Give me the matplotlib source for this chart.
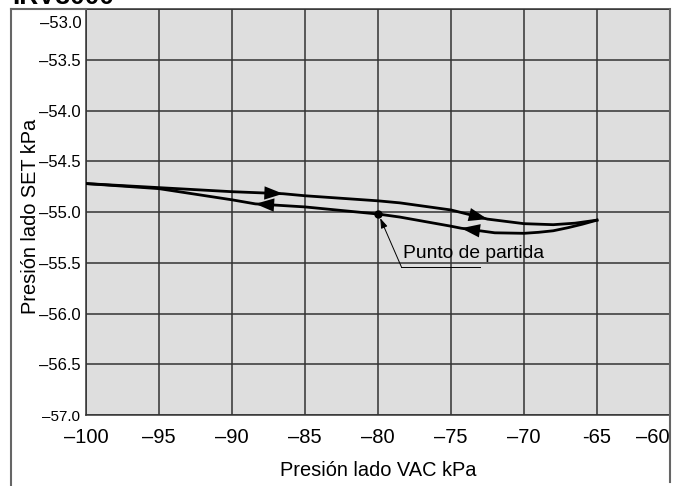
import numpy as np
import matplotlib
matplotlib.use("Agg")
import matplotlib.pyplot as plt
from matplotlib import font_manager
from matplotlib.lines import Line2D

# data
fwd_x = [-100, -95, -90, -86.5, -85, -80, -78.5, -75, -72.5, -70, -68, -66.5, -65]
fwd_y = [-54.72, -54.76, -54.80, -54.82, -54.84, -54.89, -54.91, -54.98, -55.07, -55.115, -55.125, -55.11, -55.08]

ret_x = [-65, -66, -67, -68, -69, -70, -72, -74.3, -75, -78.5, -80, -85, -88.4, -90, -95, -100]
ret_y = [-55.08, -55.12, -55.155, -55.185, -55.2, -55.21, -55.205, -55.16, -55.14, -55.05, -55.02, -54.95, -54.92, -54.88, -54.77, -54.72]

fwd_arrow_x = [-86.5, -72.5]
ret_arrow_x = [-88.4, -74.3]

start_x, start_y = -80, -55.02

x_ticks = [-100, -95, -90, -85, -80, -75, -70, -65, -60]
x_labels = ["\u2013100", "\u201395", "\u201390", "\u201385", "\u201380", "\u201375", "\u201370", "-65", "\u201360"]
y_ticks = [-53.0, -53.5, -54.0, -54.5, -55.0, -55.5, -56.0, -56.5, -57.0]
y_labels = ["\u2013%.1f" % abs(v) for v in y_ticks]

names = {f.name for f in font_manager.fontManager.ttflist}
narrow = "Liberation Sans Narrow" if "Liberation Sans Narrow" in names else "Liberation Sans"
plt.rcParams["font.family"] = ["Liberation Sans", "DejaVu Sans"]

fig = plt.figure(figsize=(6.77, 4.86), dpi=100)
ax = fig.add_axes([86 / 677, 1 - 415 / 486, 584 / 677, 406 / 486])
ax.set_facecolor("#dedede")
ax.set_xlim(-100, -60)
ax.set_ylim(-57.0, -53.0)

ax.set_xticks(x_ticks)
ax.set_xticklabels(x_labels, fontsize=14.5)
ax.set_yticks(y_ticks)
ax.set_yticklabels(y_labels, fontsize=12, family=narrow)
ax.tick_params(length=0)
ax.tick_params(axis="x", pad=9)
ax.tick_params(axis="y", pad=4)
ax.grid(True, color="#333333", lw=1.1)
ax.set_axisbelow(True)
for s in ax.spines.values():
    s.set_color("#333333")
    s.set_linewidth(1.1)

# last x label sits left of its tick
ax.get_xticklabels()[-1].set_ha("right")
ax.get_xticklabels()[-1].set_x(-60.2)

# top label sits below the top edge, bottom one a bit smaller
yl = ax.get_yticklabels()
yl[0].set_visible(False)
ax.annotate(y_labels[0], xy=(0, y_ticks[0]), xycoords=("axes fraction", "data"),
            xytext=(-4, -14), textcoords="offset pixels", ha="right", va="center",
            fontsize=12, family=narrow)
yl[-1].set_fontsize(11)

ax.plot(fwd_x, fwd_y, color="black", lw=2, zorder=3, solid_joinstyle="round")
ax.plot(ret_x, ret_y, color="black", lw=2, zorder=3, solid_joinstyle="round")

def arrow_on(xs, ys, xa, direction):
    order = np.argsort(xs)
    sx = np.array(xs)[order]
    sy = np.array(ys)[order]
    ya = np.interp(xa, sx, sy)
    xb = xa - direction * 1.0
    yb = np.interp(xb, sx, sy)
    ax.annotate("", xy=(xa, ya), xytext=(xb, yb),
                arrowprops=dict(arrowstyle="-|>,head_length=0.9,head_width=0.32",
                                color="black", lw=0, mutation_scale=15, shrinkA=0, shrinkB=0),
                zorder=4)

for xa in fwd_arrow_x:
    arrow_on(fwd_x, fwd_y, xa, +1)
for xa in ret_arrow_x:
    arrow_on(ret_x, ret_y, xa, -1)

ax.plot([start_x], [start_y], "o", color="black", ms=5, zorder=5)

# leader line to starting point
ax.plot([-78.4, -73.0], [-55.54, -55.54], color="black", lw=0.7, zorder=3)
ax.annotate("", xy=(start_x + 0.15, start_y - 0.04), xytext=(-78.4, -55.54),
            arrowprops=dict(arrowstyle="-|>,head_length=0.6,head_width=0.2",
                            color="black", lw=0.7, mutation_scale=10, shrinkA=0, shrinkB=0))
ax.text(-78.3, -55.41, "Punto de partida", fontsize=13.9, ha="left", va="center", zorder=4)

ax.set_xlabel("Presi\u00f3n lado VAC kPa", fontsize=14.4)
ax.set_ylabel("Presi\u00f3n lado SET kPa", fontsize=14.4)
ax.xaxis.set_label_coords(0.5, -0.114)
ax.yaxis.set_label_coords(-0.079, 0.49)

# outer frame around the figure
fc = "#666666"
fig.add_artist(Line2D([11 / 677, 11 / 677], [0, 1 - 9 / 486], color=fc, lw=1.5, transform=fig.transFigure))
fig.add_artist(Line2D([11 / 677, 86 / 677], [1 - 9 / 486, 1 - 9 / 486], color=fc, lw=1.5, transform=fig.transFigure))
fig.add_artist(Line2D([670 / 677, 670 / 677], [4 / 486, 1 - 9 / 486], color=fc, lw=1.5, transform=fig.transFigure))

fig.text(12 / 677, 1 - 4 / 486, "IRV3000", fontsize=19, fontweight="bold", ha="left", va="baseline")

fig.savefig("out.png", dpi=100)
